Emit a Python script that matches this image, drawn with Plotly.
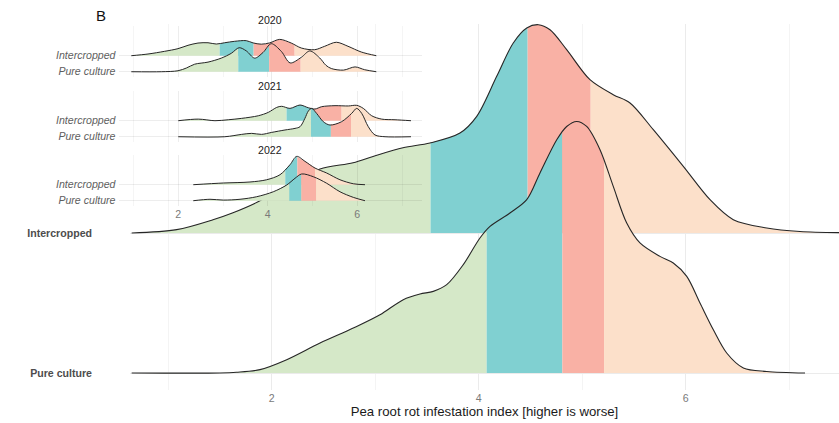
import numpy as np
import plotly.graph_objects as go

# ---- Main panel: density ridges (x = infestation index, h = ridge height in row units)
ic_x = [0.647, 1.082, 1.433, 1.626, 1.868, 2.177, 2.467, 2.786, 2.979, 3.268, 3.529, 3.819,
        3.981, 4.174, 4.334, 4.464, 4.576, 4.689, 4.85, 5.075, 5.30, 5.462, 5.687, 5.977,
        6.235, 6.46, 6.783, 7.104, 7.481]
ic_h = [0, 0.024, 0.095, 0.145, 0.223, 0.352, 0.457, 0.502, 0.547, 0.609, 0.643, 0.714,
        0.833, 1.119, 1.357, 1.464, 1.488, 1.452, 1.31, 1.095, 0.988, 0.929, 0.738, 0.476,
        0.238, 0.095, 0.036, 0.011, 0.003]
ic_q = [3.535, 4.473, 5.082]

pc_x = [0.647, 1.50, 1.66, 1.887, 2.145, 2.467, 2.788, 3.046, 3.271, 3.433, 3.561, 3.691,
        3.851, 4.012, 4.109, 4.302, 4.464, 4.592, 4.754, 4.85, 4.947, 5.043, 5.172, 5.30,
        5.43, 5.558, 5.751, 5.88, 6.01, 6.138, 6.267, 6.396, 6.557, 6.783, 7.153]
pc_h = [0, 0, 0.005, 0.024, 0.095, 0.214, 0.321, 0.416, 0.524, 0.564, 0.583, 0.631,
        0.774, 0.964, 1.047, 1.143, 1.238, 1.429, 1.666, 1.761, 1.797, 1.761, 1.595, 1.333,
        1.071, 0.929, 0.833, 0.786, 0.69, 0.5, 0.309, 0.143, 0.036, 0.011, 0]
pc_q = [4.077, 4.808, 5.211]

# ---- Inset: per-year ridges
ic20_x = [0.95, 1.323, 1.696, 1.993, 2.217, 2.44, 2.664, 2.849, 3.037, 3.26, 3.52, 3.67,
          3.855, 4.042, 4.266, 4.525, 4.749, 5.048, 5.272, 5.531, 5.792, 6.09, 6.425]
ic20_h = [0, 0.106, 0.275, 0.44, 0.65, 0.79, 0.81, 0.73, 0.81, 0.9, 0.94, 0.8,
          0.72, 0.8, 1.02, 0.79, 0.48, 0.375, 0.59, 0.84, 0.59, 0.23, 0]
ic20_q = [2.925, 3.684, 4.60]

pc20_x = [0.95, 1.62, 1.993, 2.18, 2.366, 2.664, 2.961, 3.185, 3.36, 3.52, 3.707, 3.893,
          4.078, 4.302, 4.5, 4.749, 4.94, 5.16, 5.3, 5.419, 5.69, 5.95, 6.165, 6.425]
pc20_h = [0, 0, 0.06, 0.23, 0.47, 0.6, 0.85, 1.15, 1.5, 1.3, 0.85, 1.2,
          1.75, 1.27, 0.55, 0.9, 1.3, 0.86, 0.4, 0.2, 0.1, 0.3, 0.125, 0]
pc20_q = [3.34, 4.03, 4.735]

ic21_x = [2.0, 2.447, 2.82, 3.117, 3.416, 3.788, 4.011, 4.199, 4.31, 4.496, 4.72, 4.905,
          5.055, 5.204, 5.502, 5.799, 5.986, 6.134, 6.322, 6.545, 6.843, 7.2]
ic21_h = [0, 0.10, 0.0, 0.06, 0.146, 0.31, 0.52, 0.83, 0.90, 0.77, 0.98, 0.81,
          0.73, 0.875, 0.94, 0.92, 0.96, 0.77, 0.31, 0.10, 0.06, 0]
ic21_q = [4.42, 5.02, 5.65]

pc21_x = [2.0, 3.04, 3.416, 3.64, 3.86, 4.087, 4.384, 4.608, 4.72, 4.83, 4.905, 4.98,
          5.09, 5.24, 5.39, 5.65, 5.875, 5.987, 6.098, 6.246, 6.395, 6.62, 7.2]
pc21_h = [0, 0, 0.146, 0.21, 0.146, 0.27, 0.42, 0.52, 0.625, 1.15, 1.6, 1.77,
          1.46, 0.94, 0.73, 0.94, 1.46, 1.77, 1.46, 0.625, 0.11, 0, 0]
pc21_q = [4.965, 5.41, 5.86]

ic22_x = [2.335, 3.006, 3.602, 3.975, 4.273, 4.496, 4.646, 4.831, 5.055, 5.316, 5.613,
          5.911, 6.172]
ic22_h = [0, 0.106, 0.17, 0.31, 0.625, 1.25, 1.77, 1.46, 1.04, 0.73, 0.31, 0.06, 0]
ic22_q = [4.39, 4.66, 5.055]

pc22_x = [2.335, 2.708, 3.006, 3.379, 3.752, 4.123, 4.422, 4.608, 4.757, 5.017, 5.316,
          5.613, 5.911, 6.172]
pc22_h = [0, 0.09, 0.04, 0.09, 0.25, 0.56, 0.98, 1.4, 1.67, 1.5, 1.09, 0.56, 0.21, 0]
pc22_q = [4.48, 4.75, 5.08]

years = ["2020", "2021", "2022"]
groups = ["Pure culture", "Intercropped"]
tick_main = [2, 4, 6]
tick_minor = [1, 3, 5, 7]

QUARTILE_COLORS = ["#d5e8c8", "#80d0d1", "#f9b1a5", "#fce0ca"]
LINE_COLOR = "#262626"
FONT = "Liberation Sans, Arial, sans-serif"

fig = go.Figure()


def add_ridge(xs, hs, qs, base, xa, ya, lw):
    """Quartile-filled density ridge sitting on `base`, outline on top."""
    edges = [xs[0]] + list(qs) + [xs[-1]]
    for i in range(4):
        a, b = edges[i], edges[i + 1]
        inner = [(x, h) for x, h in zip(xs, hs) if a < x < b]
        sx = [a] + [p[0] for p in inner] + [b]
        sy = [float(np.interp(a, xs, hs))] + [p[1] for p in inner] + [float(np.interp(b, xs, hs))]
        fig.add_trace(go.Scatter(x=[a, b], y=[base, base], mode="lines",
                                 line=dict(width=0), hoverinfo="skip",
                                 showlegend=False, xaxis=xa, yaxis=ya))
        fig.add_trace(go.Scatter(x=sx, y=[base + v for v in sy], mode="lines",
                                 line=dict(width=0, shape="spline", smoothing=0.9),
                                 fill="tonexty", fillcolor=QUARTILE_COLORS[i],
                                 hoverinfo="skip", showlegend=False,
                                 xaxis=xa, yaxis=ya))
    fig.add_trace(go.Scatter(x=xs, y=[base + v for v in hs], mode="lines",
                             line=dict(color=LINE_COLOR, width=lw, shape="spline",
                                       smoothing=0.9),
                             showlegend=False, xaxis=xa, yaxis=ya))


# main panel: upper ridge first so the lower one overlaps it
add_ridge(ic_x, ic_h, ic_q, 2, "x", "y", 1.1)
add_ridge(pc_x, pc_h, pc_q, 1, "x", "y", 1.1)

# inset facets
inset_data = [
    ("x2", "y2", ic20_x, ic20_h, ic20_q, pc20_x, pc20_h, pc20_q),
    ("x3", "y3", ic21_x, ic21_h, ic21_q, pc21_x, pc21_h, pc21_q),
    ("x4", "y4", ic22_x, ic22_h, ic22_q, pc22_x, pc22_h, pc22_q),
]
for xa, ya, ix, ih, iq, px, ph, pq in inset_data:
    add_ridge(ix, ih, iq, 2, xa, ya, 1.0)
    add_ridge(px, ph, pq, 1, xa, ya, 1.0)

GRID = "#ebebeb"
GRID_MINOR = "#f4f4f4"
IGRID = "rgba(0,0,0,0.07)"
IGRID_MINOR = "rgba(0,0,0,0.04)"

layout = dict(
    width=839, height=423,
    margin=dict(l=0, r=0, t=0, b=0),
    paper_bgcolor="white", plot_bgcolor="rgba(0,0,0,0)",
    showlegend=False,
    font=dict(family=FONT),
    xaxis=dict(domain=[130 / 839, 1.0], range=[0.631, 7.481],
               tickvals=tick_main, ticks="", showline=False, zeroline=False,
               showgrid=True, gridcolor=GRID, gridwidth=0.8,
               minor=dict(tickvals=tick_minor, showgrid=True, gridcolor=GRID_MINOR,
                          gridwidth=0.6),
               tickfont=dict(size=10.6, color="#7a7a7a"),
               title=dict(text="Pea root rot infestation index [higher is worse]",
                          font=dict(size=13.2, color="#1a1a1a"), standoff=3)),
    yaxis=dict(domain=[1 - 390 / 423, 1 - 24 / 423], range=[0.8786, 3.4929],
               tickvals=[1, 2],
               ticktext=["<b>" + g + "</b>" for g in groups],
               ticks="", showline=False, zeroline=False,
               showgrid=True, gridcolor=GRID, gridwidth=0.8,
               ticklabelstandoff=37,
               tickfont=dict(size=10.6, color="#4d4d4d")),
)

inset_domains = [(26, 77), (91, 142), (155, 206)]
for k, (top, bot) in enumerate(inset_domains):
    n = k + 2
    xa = dict(domain=[118.5 / 839, 422 / 839], range=[0.664, 7.446],
              anchor="y%d" % n, tickvals=tick_main, ticks="",
              showline=False, zeroline=False,
              showgrid=True, gridcolor=IGRID, gridwidth=0.6,
              minor=dict(tickvals=tick_minor, showgrid=True, gridcolor=IGRID_MINOR,
                         gridwidth=0.5),
              showticklabels=(n == 4),
              tickfont=dict(size=10.6, color="#7a7a7a"))
    if n != 2:
        xa["matches"] = "x2"
    ya = dict(domain=[1 - bot / 423, 1 - top / 423], range=[0.67, 3.856],
              anchor="x%d" % n, tickvals=[1, 2],
              ticktext=["<i>" + g + "</i>" for g in groups],
              ticks="", showline=False, zeroline=False,
              showgrid=True, gridcolor=IGRID, gridwidth=0.6,
              ticklabelstandoff=2,
              tickfont=dict(size=10.6, color="#5e5e5e"))
    layout["xaxis%d" % n] = xa
    layout["yaxis%d" % n] = ya

annotations = [dict(text="B", x=101 / 839, y=1 - 15 / 423, xref="paper", yref="paper",
                    showarrow=False, font=dict(size=15, color="#111111"),
                    xanchor="center", yanchor="middle")]
for yr, yc in zip(years, [20, 86, 150]):
    annotations.append(dict(text=yr, x=270.25 / 839, y=1 - yc / 423,
                            xref="paper", yref="paper", showarrow=False,
                            font=dict(size=10.6, color="#1a1a1a"),
                            xanchor="center", yanchor="middle"))
layout["annotations"] = annotations

fig.update_layout(**layout)
fig.write_html("out.html")
